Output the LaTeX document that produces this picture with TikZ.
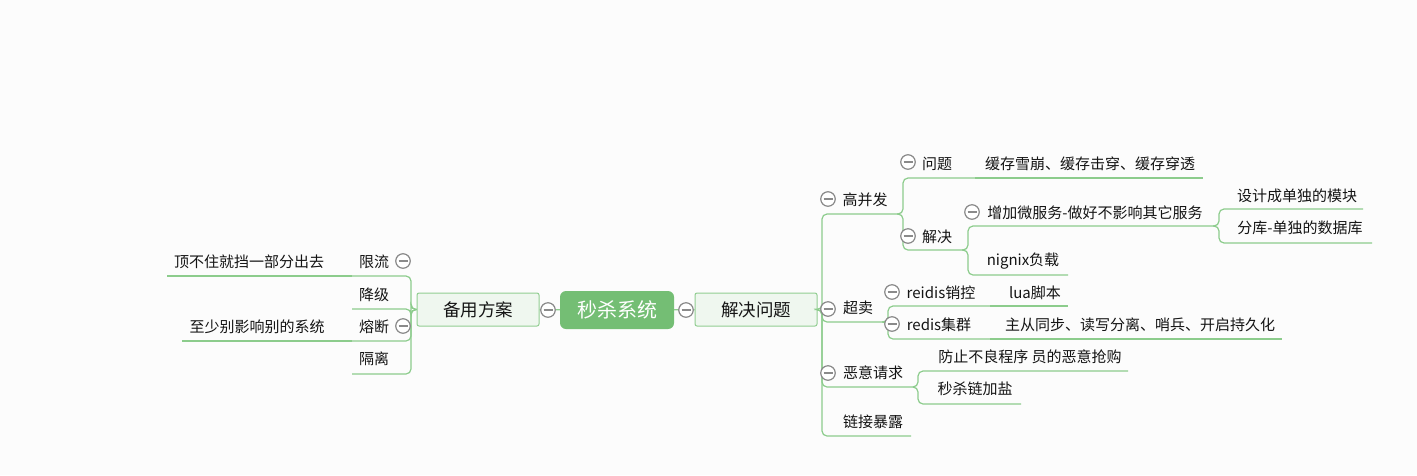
\documentclass[tikz,border=0pt]{standalone}
\usepackage{fontspec}
\setmainfont{Noto Sans CJK SC}
\usetikzlibrary{calc}
\definecolor{lgreen}{RGB}{140,204,140}
\definecolor{rgreen}{RGB}{116,190,116}
\definecolor{bgreen}{RGB}{146,206,146}
\definecolor{bfill}{RGB}{239,247,239}
\definecolor{fgray}{RGB}{138,138,138}
\definecolor{tblack}{RGB}{20,20,20}
\definecolor{bgc}{RGB}{252,252,252}

\begin{document}
\begin{tikzpicture}[x=1pt,y=-1pt,
    ln/.style={draw=lgreen,line width=1.2pt},
    br/.style={ln,rounded corners=5pt},
    txt/.style={inner sep=0pt,text=tblack,font=\fontsize{15}{18}\selectfont},
    fold/.style={circle,draw=fgray,fill=white,line width=1.2pt,minimum size=14.5pt,inner sep=0pt,
      path picture={\draw[fgray,line width=1.2pt] ($(path picture bounding box.center)+(-4.5,0)$) -- ($(path picture bounding box.center)+(4.5,0)$);}},
    topbox/.style={draw=bgreen,fill=bfill,rounded corners=2pt,line width=1pt,minimum width=122pt,minimum height=33pt,
      inner sep=0pt,text=tblack,font=\fontsize{17.5}{20}\selectfont},
    rootbox/.style={fill=rgreen,rounded corners=6pt,minimum width=114pt,minimum height=38pt,
      inner sep=0pt,text=white,font=\fontsize{20}{24}\selectfont}]
  \fill[bgc] (0,0) rectangle (1417,475);
  \useasboundingbox (0,0) rectangle (1417,475);

  % centre and main topics
  \node[rootbox] (root) at (617,310) {秒杀系统};
  \node[topbox] (byfa) at (478,309.5) {备用方案};
  \node[topbox] (jjwt) at (756,309.5) {解决问题};
  \draw[ln] (byfa) -- (root);
  \draw[ln] (root) -- (jjwt);

  % left side
  \node[txt] (xl) at (374,262) {限流};
  \node[txt] (jj) at (374,295) {降级};
  \node[txt] (rd) at (374,327) {熔断};
  \node[txt] (gl) at (374,359) {隔离};
  \node[txt] (dbz) at (249,262) {顶不住就挡一部分出去};
  \node[txt] (zsb) at (257,327) {至少别影响别的系统};
  \coordinate (xl-e) at (411,276); \coordinate (xl-w) at (352,276);
  \coordinate (jj-e) at (411,309); \coordinate (jj-w) at (352,309);
  \coordinate (rd-e) at (411,341); \coordinate (rd-w) at (352,341);
  \coordinate (gl-e) at (411,374); \coordinate (gl-w) at (352,374);
  \coordinate (dbz-w) at (167,276);
  \coordinate (zsb-w) at (182,341);
  \draw[br] (byfa.west) -| (xl-e) -- (xl-w);
  \draw[br] (byfa.west) -| (jj-e) -- (jj-w);
  \draw[br] (byfa.west) -| (rd-e) -- (rd-w);
  \draw[br] (byfa.west) -| (gl-e) -- (gl-w);
  \draw[ln] (xl-w) -- (dbz-w);
  \draw[ln] (rd-w) -- (zsb-w);

  % right side, first level
  \node[txt] (gbf) at (865,200) {高并发};
  \node[txt] (cm) at (858,308) {超卖};
  \node[txt] (eyqq) at (873,373) {恶意请求};
  \node[txt] (ljbl) at (873,422) {链接暴露};
  \coordinate (gbf-w) at (822,214); \coordinate (gbf-e) at (897,214);
  \coordinate (cm-w) at (822,322); \coordinate (cm-e) at (882,322);
  \coordinate (eyqq-w) at (822,387); \coordinate (eyqq-e) at (913,387);
  \coordinate (ljbl-w) at (822,436); \coordinate (ljbl-e) at (911,436);
  \draw[br] (jjwt.east) -| (gbf-w) -- (gbf-e);
  \draw[br] (jjwt.east) -| (cm-w) -- (cm-e);
  \draw[br] (jjwt.east) -| (eyqq-w) -- (eyqq-e);
  \draw[br] (jjwt.east) -| (ljbl-w) -- (ljbl-e);

  % 高并发
  \node[txt] (wt) at (937,164) {问题};
  \node[txt] (hc) at (1090,164) {缓存雪崩、缓存击穿、缓存穿透};
  \node[txt] (jq) at (937,237) {解决};
  \node[txt] (wfw) at (1095,213) {增加微服务-做好不影响其它服务};
  \node[txt] (mk) at (1297,196) {设计成单独的模块};
  \node[txt] (fk) at (1300,228) {分库-单独的数据库};
  \node[txt] (ngx) at (1023,261) {nignix负载};
  \coordinate (wt-w) at (903,178); \coordinate (wt-e) at (975,178);
  \coordinate (hc-e) at (1203,178);
  \coordinate (jq-w) at (903,250); \coordinate (jq-e) at (962,250);
  \coordinate (wfw-w) at (968,226); \coordinate (wfw-e) at (1213,226);
  \coordinate (mk-w) at (1219,209); \coordinate (mk-e) at (1363,209);
  \coordinate (fk-w) at (1219,243); \coordinate (fk-e) at (1372,243);
  \coordinate (ngx-w) at (968,275); \coordinate (ngx-e) at (1068,275);
  \draw[br] (gbf-e) -| (wt-w) -- (wt-e);
  \draw[ln] (wt-e) -- (hc-e);
  \draw[br] (gbf-e) -| (jq-w) -- (jq-e);
  \draw[br] (jq-e) -| (wfw-w) -- (wfw-e);
  \draw[br] (jq-e) -| (ngx-w) -- (ngx-e);
  \draw[br] (wfw-e) -| (mk-w) -- (mk-e);
  \draw[br] (wfw-e) -| (fk-w) -- (fk-e);

  % 超卖
  \node[txt] (xk) at (941,293) {reidis销控};
  \node[txt] (lua) at (1035,293) {lua脚本};
  \node[txt] (jq2) at (939,325) {redis集群};
  \node[txt] (zc) at (1140,325) {主从同步、读写分离、哨兵、开启持久化};
  \coordinate (xk-w) at (888,306); \coordinate (xk-e) at (990,306);
  \coordinate (lua-e) at (1068,306);
  \coordinate (jq2-w) at (888,339); \coordinate (jq2-e) at (990,339);
  \coordinate (zc-e) at (1282,339);
  \draw[br] (cm-e) -| (xk-w) -- (xk-e);
  \draw[ln] (xk-e) -- (lua-e);
  \draw[br] (cm-e) -| (jq2-w) -- (jq2-e);
  \draw[ln] (jq2-e) -- (zc-e);

  % 恶意请求
  \node[txt] (fz) at (1030,357) {防止不良程序 员的恶意抢购};
  \node[txt] (jy) at (975,389) {秒杀链加盐};
  \coordinate (fz-w) at (918,371); \coordinate (fz-e) at (1128,371);
  \coordinate (jy-w) at (918,404); \coordinate (jy-e) at (1021,404);
  \draw[br] (eyqq-e) -| (fz-w) -- (fz-e);
  \draw[br] (eyqq-e) -| (jy-w) -- (jy-e);

  % fold marks
  \node[fold] (f-l) at (548,310) {};
  \node[fold] (f-r) at (686,310) {};
  \node[fold] (f-xl) at (403,261) {};
  \node[fold] (f-rd) at (403,326) {};
  \node[fold] (f-gbf) at (828,199) {};
  \node[fold] (f-cm) at (828,309) {};
  \node[fold] (f-eyqq) at (828,373) {};
  \node[fold] (f-wt) at (908,162) {};
  \node[fold] (f-jq) at (908,236) {};
  \node[fold] (f-wfw) at (972,212) {};
  \node[fold] (f-xk) at (892,292) {};
  \node[fold] (f-jq2) at (892,324) {};
\end{tikzpicture}
\end{document}
